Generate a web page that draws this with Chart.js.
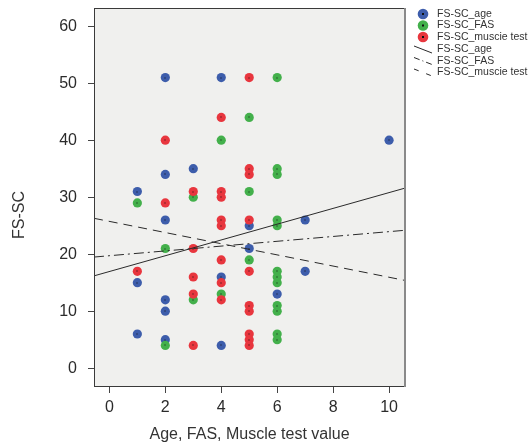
<!DOCTYPE html>
<html>
<head>
<meta charset="utf-8">
<script src="https://cdn.jsdelivr.net/npm/chart.js@4/dist/chart.umd.min.js"></script>
<style>
  body { margin: 0; background: #fff; }
  #wrap { width: 529px; height: 448px; }
</style>
</head>
<body>
<div id="wrap"><canvas id="scatter" width="529" height="448"></canvas></div>
<script>
// values
const ageX = [1, 1, 1, 2, 2, 2, 2, 2, 2, 3, 4, 4, 4, 5, 5, 6, 7, 7, 10];
const ageY = [31, 15, 6, 51, 34, 26, 12, 10, 5, 35, 51, 16, 4, 25, 21, 13, 26, 17, 40];

const fasX = [1, 2, 2, 3, 3, 4, 4, 5, 5, 5, 6, 6, 6, 6, 6, 6, 6, 6, 6, 6, 6, 6];
const fasY = [29, 21, 4, 30, 12, 40, 13, 44, 31, 19, 51, 35, 34, 26, 25, 17, 16, 15, 11, 10, 6, 5];

const musX = [1, 2, 2, 3, 3, 3, 3, 3, 4, 4, 4, 4, 4, 4, 4, 4, 5, 5, 5, 5, 5, 5, 5, 5, 5, 5];
const musY = [17, 40, 29, 31, 21, 16, 13, 4, 44, 31, 30, 26, 25, 19, 15, 12, 51, 35, 34, 26, 17, 11, 10, 6, 5, 4];

// fit lines, value at the left and right edge of the plot
const fitX = [-0.55, 10.57];
const fitAge = [16.2, 31.6];
const fitFAS = [19.5, 24.2];
const fitMuscle = [26.3, 15.4];

const xTicks = [0, 2, 4, 6, 8, 10];
const yTicks = [0, 10, 20, 30, 40, 50, 60];

const pointLabels = ['FS-SC_age', 'FS-SC_FAS', 'FS-SC_muscie test'];
const lineLabels = ['FS-SC_age', 'FS-SC_FAS', 'FS-SC_muscie test'];

const BLUE = '#3d5dab', GREEN = '#43b04b', RED = '#e8363e';
const DASH_FAS = [10, 4, 2, 4];
const DASH_MUS = [9, 6];

function pts(xs, ys) {
  return xs.map((x, i) => ({ x: x, y: ys[i] }));
}

const pointSet = (label, xs, ys, color, order) => ({
  type: 'scatter', label: label, data: pts(xs, ys), order: order,
  backgroundColor: color, borderWidth: 0, pointRadius: 4.6, pointHoverRadius: 4.6
});
const lineSet = (label, ys, dash) => ({
  type: 'line', label: label, data: pts(fitX, ys), order: 0,
  borderColor: '#2a2a2a', borderWidth: 1, borderDash: dash, pointRadius: 0, fill: false
});

// plot background and frame
const plotBg = {
  id: 'plotBg',
  beforeDraw(chart) {
    const { ctx, chartArea: a } = chart;
    ctx.save();
    ctx.fillStyle = '#f0f0ee';
    ctx.fillRect(a.left, a.top, a.right - a.left, a.bottom - a.top);
    ctx.restore();
  },
  afterDraw(chart) {
    const { ctx, chartArea: a } = chart;
    ctx.save();
    ctx.strokeStyle = '#3a3a3a';
    ctx.lineWidth = 1;
    ctx.strokeRect(a.left + 0.5, a.top + 0.5, a.right - a.left - 1, a.bottom - a.top - 1);
    ctx.strokeStyle = '#8a8a8a';
    ctx.lineWidth = 2;
    ctx.beginPath();
    ctx.moveTo(a.right, a.top);
    ctx.lineTo(a.right, a.bottom);
    ctx.stroke();
    ctx.restore();
  }
};

// tiny dark dot in the middle of every marker
const centreDots = {
  id: 'centreDots',
  afterDatasetsDraw(chart) {
    const ctx = chart.ctx;
    ctx.save();
    ctx.fillStyle = '#111';
    chart.data.datasets.forEach((ds, i) => {
      if (ds.type !== 'scatter') return;
      chart.getDatasetMeta(i).data.forEach(el => {
        ctx.fillRect(Math.round(el.x) - 0.5, Math.round(el.y) - 0.5, 1, 1);
      });
    });
    ctx.restore();
  }
};

// axis titles
const axisTitles = {
  id: 'axisTitles',
  afterDraw(chart) {
    const { ctx, chartArea: a } = chart;
    ctx.save();
    ctx.fillStyle = '#333';
    ctx.font = '16px "Liberation Sans", Arial, sans-serif';
    ctx.textAlign = 'center';
    ctx.textBaseline = 'middle';
    ctx.fillText('Age, FAS, Muscle test value', (a.left + a.right) / 2, 435);
    ctx.translate(20, 215);
    ctx.rotate(-Math.PI / 2);
    ctx.fillText('FS-SC', 0, 0);
    ctx.restore();
  }
};

// legend at the right, markers then fit lines
const sideLegend = {
  id: 'sideLegend',
  afterDraw(chart) {
    const ctx = chart.ctx;
    const colors = [BLUE, GREEN, RED];
    const rowsY = [14, 25.5, 37, 49.5, 61, 72.5];
    ctx.save();
    ctx.font = '10.5px "Liberation Sans", Arial, sans-serif';
    ctx.textBaseline = 'middle';
    pointLabels.forEach((t, i) => {
      const y = rowsY[i];
      ctx.fillStyle = colors[i];
      ctx.beginPath();
      ctx.arc(423, y, 5.3, 0, Math.PI * 2);
      ctx.fill();
      ctx.fillStyle = '#111';
      ctx.fillRect(422, y - 1, 2, 2);
      ctx.fillStyle = '#333';
      ctx.fillText(t, 437, y);
    });
    lineLabels.forEach((t, i) => {
      const y = rowsY[i + 3];
      ctx.strokeStyle = '#2a2a2a';
      ctx.lineWidth = 1;
      ctx.setLineDash(i === 0 ? [] : (i === 1 ? [6, 3, 1, 3] : [5, 8]));
      ctx.beginPath();
      ctx.moveTo(414, y - 3.5);
      ctx.lineTo(432, y + 3.5);
      ctx.stroke();
      ctx.setLineDash([]);
      ctx.fillStyle = '#333';
      ctx.fillText(t, 437, y);
    });
    ctx.restore();
  }
};

const tickFont = { family: '"Liberation Sans", Arial, sans-serif', size: 16 };

new Chart(document.getElementById('scatter'), {
  type: 'scatter',
  data: {
    datasets: [
      lineSet(lineLabels[0], fitAge, []),
      lineSet(lineLabels[1], fitFAS, DASH_FAS),
      lineSet(lineLabels[2], fitMuscle, DASH_MUS),
      pointSet(pointLabels[2], musX, musY, RED, 1),
      pointSet(pointLabels[1], fasX, fasY, GREEN, 2),
      pointSet(pointLabels[0], ageX, ageY, BLUE, 3)
    ]
  },
  options: {
    responsive: false,
    animation: false,
    layout: { padding: { left: 0, right: 124, top: 8, bottom: 0 } },
    plugins: { legend: { display: false }, tooltip: { enabled: false } },
    scales: {
      x: {
        type: 'linear', min: -0.55, max: 10.57,
        afterBuildTicks: s => { s.ticks = xTicks.map(v => ({ value: v })); },
        afterFit: s => { s.height = 61; s.paddingLeft = 0; s.paddingRight = 0; },
        grid: { drawOnChartArea: false, drawTicks: true, tickLength: 6, color: '#444' },
        border: { display: false },
        ticks: { color: '#2b2b2b', font: tickFont, padding: 5, maxRotation: 0 }
      },
      y: {
        type: 'linear', min: -3.3, max: 63.2,
        afterBuildTicks: s => { s.ticks = yTicks.map(v => ({ value: v })); },
        afterFit: s => { s.width = 94; s.paddingTop = 0; s.paddingBottom = 0; },
        grid: { drawOnChartArea: false, drawTicks: true, tickLength: 6, color: '#444' },
        border: { display: false },
        ticks: { color: '#2b2b2b', font: tickFont, padding: 11 }
      }
    }
  },
  plugins: [plotBg, centreDots, axisTitles, sideLegend]
});
</script>
</body>
</html>
